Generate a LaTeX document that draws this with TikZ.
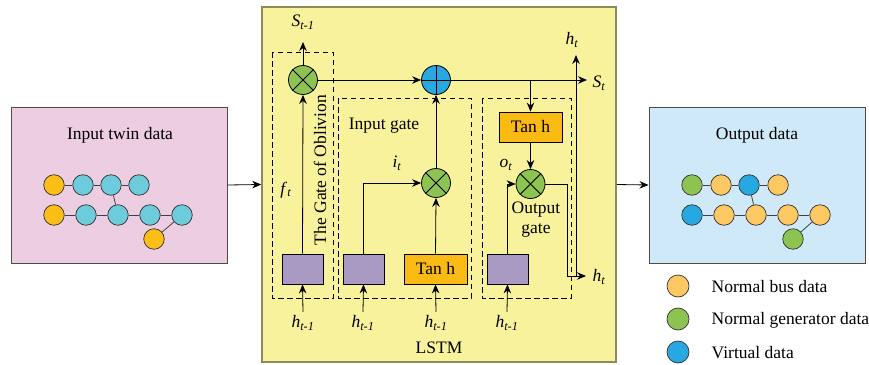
\documentclass[tikz,border=0pt]{standalone}
\usepackage{fontspec}
\setmainfont{Liberation Serif}
\usetikzlibrary{arrows.meta}
\definecolor{inpink}{HTML}{EDCDE2}
\definecolor{lstmyel}{HTML}{F8F29C}
\definecolor{outblue}{HTML}{CFE9F8}
\definecolor{inorange}{HTML}{FBBE17}
\definecolor{incyan}{HTML}{6DCBDB}
\definecolor{busyel}{HTML}{FDC762}
\definecolor{gengreen}{HTML}{8DC351}
\definecolor{virtblue}{HTML}{27A8E0}
\definecolor{sigpurple}{HTML}{A99AC4}
\definecolor{tanhyel}{HTML}{F9BB13}
\definecolor{lstmedge}{HTML}{8F8A5A}
\newcommand{\vlab}[2]{\textit{#1}\textsubscript{\textit{#2}}}
\begin{document}
\begin{tikzpicture}[x=1pt,y=-1pt,font=\fontsize{17.5}{20}\selectfont,line width=0.8pt,
  >={Stealth[length=9pt,width=7.5pt]},
  panel/.style={draw=black!70,line width=1pt,inner sep=0pt},
  bus/.style={circle,draw=black!80,line width=0.7pt,minimum size=20.5pt,inner sep=0pt},
  link/.style={draw=black!75,line width=0.8pt},
  gatebox/.style={dash pattern=on 5.5pt off 3.5pt,line width=0.8pt},
  mult/.style={circle,draw,fill=gengreen,minimum size=29pt,inner sep=0pt},
  sigbox/.style={draw,fill=sigpurple,minimum width=41pt,minimum height=30pt,inner sep=0pt},
  tanhbox/.style={draw,fill=tanhyel,minimum width=63pt,minimum height=30pt,inner sep=0pt}]
  \useasboundingbox (0,0) rectangle (869,364);
  % input panel
  \node[panel,fill=inpink,minimum width=216pt,minimum height=156pt] (inbox) at (119,185) {};
  \node (intitle) at (120,135) {Input twin data};
  \node[bus,fill=inorange] (a1) at (54,185) {};
  \node[bus,fill=incyan] (a2) at (83,185) {};
  \node[bus,fill=incyan] (a3) at (111,185) {};
  \node[bus,fill=incyan] (a4) at (139,185) {};
  \node[bus,fill=inorange] (b1) at (54,215) {};
  \node[bus,fill=incyan] (b2) at (86,215) {};
  \node[bus,fill=incyan] (b3) at (118,215) {};
  \node[bus,fill=incyan] (b4) at (150,215) {};
  \node[bus,fill=incyan] (b5) at (182,215) {};
  \node[bus,fill=inorange] (c1) at (154,239) {};
  \draw[link] (a1) -- (a2) -- (a3) -- (a4);
  \draw[link] (b1) -- (b2) -- (b3) -- (b4) -- (b5);
  \draw[link] (a3) -- (b3);
  \draw[link] (b5) -- (c1);
  % LSTM panel
  \node[panel,draw=lstmedge,line width=1.6pt,fill=lstmyel,minimum width=354pt,minimum height=355pt] (lstm) at (439,184.5) {};
  \node (lstmlab) at (439,348) {LSTM};
  \draw[->] (inbox.east) -- (lstm.west);
  % the gate of oblivion
  \draw[gatebox] (272,52) rectangle (333,298);
  \node[mult] (fm) at (303,80) {};
  \draw (fm.north west) -- (fm.south east) (fm.north east) -- (fm.south west);
  \coordinate (sprev) at (303,42);
  \node (sprevlab) at (303,22) {\vlab{S}{t-1}};
  \draw[->] (fm.north) -- (sprev);
  \node[sigbox] (sf) at (302.5,269) {};
  \node (hf) at (303,323) {\vlab{h}{t-1}};
  \draw[->] (hf.north) -- (sf.south);
  \draw[->] (sf.north) -- (fm.south);
  \node (ft) at (286,190) {\vlab{f}{t}};
  \node[rotate=90] (oblivion) at (320,170) {The Gate of Oblivion};
  % cell state
  \node[circle,draw,fill=virtblue,minimum size=29pt,inner sep=0pt] (pl) at (436,80) {};
  \draw (pl.north) -- (pl.south) (pl.west) -- (pl.east);
  \draw[->] (fm.east) -- (pl.west);
  \coordinate (st) at (587,80);
  \draw[->] (pl.east) -- (st);
  \node[anchor=west] (stlab) at (589,83) {\vlab{S}{t}};
  % input gate
  \draw[gatebox] (338,98) rectangle (471,298);
  \node (inlab) at (384,126) {Input gate};
  \node[mult] (im) at (436,183) {};
  \draw (im.north west) -- (im.south east) (im.north east) -- (im.south west);
  \draw[->] (im.north) -- (pl.south);
  \node[sigbox] (si) at (363.5,269) {};
  \node[tanhbox] (ti) at (435.5,269) {Tan h};
  \draw[->] (si.north) |- (im.west);
  \draw[->] (ti.north) -- (im.south);
  \node (it) at (397,163) {\vlab{i}{t}};
  \node (hi) at (363,323) {\vlab{h}{t-1}};
  \node (hti) at (436,323) {\vlab{h}{t-1}};
  \draw[->] (hi.north) -- (si.south);
  \draw[->] (hti.north) -- (ti.south);
  % output gate
  \draw[gatebox] (482,98) rectangle (571,298);
  \node[tanhbox] (to) at (530.5,127) {Tan h};
  \coordinate (tap) at (530.5,80);
  \draw[->] (tap) -- (to.north);
  \node[mult] (om) at (530.5,184) {};
  \draw (om.north west) -- (om.south east) (om.north east) -- (om.south west);
  \draw[->] (to.south) -- (om.north);
  \node[sigbox] (so) at (507.5,269) {};
  \node (ho) at (507,323) {\vlab{h}{t-1}};
  \draw[->] (ho.north) -- (so.south);
  \draw[->] (so.north) |- (om.west);
  \node (ot) at (506,165) {\vlab{o}{t}};
  \node[align=center] (outlab) at (536,220) {Output\\gate};
  \coordinate (bend) at (567,276);
  \coordinate (hout) at (586,276);
  \draw[->] (om.east) -| (bend) -- (hout);
  \node[anchor=west] (houtlab) at (589,277) {\vlab{h}{t}};
  \coordinate (hbase) at (576,276);
  \coordinate (htop) at (576,55);
  \draw[->] (hbase) -- (htop);
  \node (htoplab) at (572,40) {\vlab{h}{t}};
  % output panel
  \node[panel,fill=outblue,minimum width=216pt,minimum height=156pt] (outbox) at (757,185) {};
  \draw[->] (lstm.east) -- (outbox.west);
  \node (outtitle) at (757,135) {Output data};
  \node[bus,fill=gengreen] (p1) at (692,185) {};
  \node[bus,fill=busyel] (p2) at (721,185) {};
  \node[bus,fill=virtblue] (p3) at (749,185) {};
  \node[bus,fill=busyel] (p4) at (778,185) {};
  \node[bus,fill=virtblue] (q1) at (692,215) {};
  \node[bus,fill=busyel] (q2) at (724,215) {};
  \node[bus,fill=busyel] (q3) at (756,215) {};
  \node[bus,fill=busyel] (q4) at (788,215) {};
  \node[bus,fill=busyel] (q5) at (820,215) {};
  \node[bus,fill=gengreen] (r1) at (793,239) {};
  \draw[link] (p1) -- (p2) -- (p3) -- (p4);
  \draw[link] (q1) -- (q2) -- (q3) -- (q4) -- (q5);
  \draw[link] (p3) -- (q3);
  \draw[link] (q5) -- (r1);
  % legend
  \node[bus,fill=busyel,minimum size=22pt] (lbus) at (678,286) {};
  \node[anchor=west] (lbuslab) at (708,287) {Normal bus data};
  \node[bus,fill=gengreen,minimum size=22pt] (lgen) at (678,319) {};
  \node[anchor=west] (lgenlab) at (708,320) {Normal generator data};
  \node[bus,fill=virtblue,minimum size=22pt] (lvirt) at (678,352) {};
  \node[anchor=west] (lvirtlab) at (708,353) {Virtual data};
\end{tikzpicture}
\end{document}
